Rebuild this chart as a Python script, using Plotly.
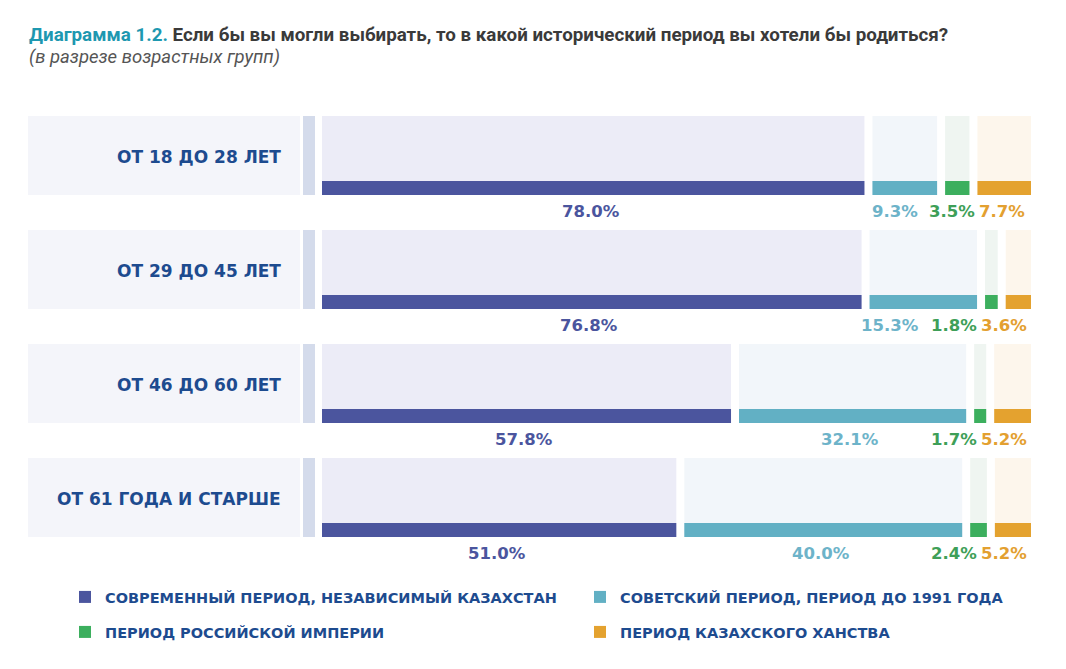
import plotly.graph_objects as go

# ---------------- data ----------------
groups = ["ОТ 18 ДО 28 ЛЕТ", "ОТ 29 ДО 45 ЛЕТ", "ОТ 46 ДО 60 ЛЕТ", "ОТ 61 ГОДА И СТАРШЕ"]
periods = [
    "СОВРЕМЕННЫЙ ПЕРИОД, НЕЗАВИСИМЫЙ КАЗАХСТАН",
    "СОВЕТСКИЙ ПЕРИОД, ПЕРИОД ДО 1991 ГОДА",
    "ПЕРИОД РОССИЙСКОЙ ИМПЕРИИ",
    "ПЕРИОД КАЗАХСКОГО ХАНСТВА",
]
modern = [78.0, 76.8, 57.8, 51.0]
soviet = [9.3, 15.3, 32.1, 40.0]
russian = [3.5, 1.8, 1.7, 2.4]
khanate = [7.7, 3.6, 5.2, 5.2]

series = [modern, soviet, russian, khanate]

# ---------------- styles ----------------
strong = ["#4b559e", "#62b0c4", "#3caf5e", "#e4a22f"]
light = ["#ececf7", "#f2f6fa", "#eff5f1", "#fdf6ec"]
label_col = ["#4b559e", "#6db3c9", "#3e9f58", "#e3a030"]
TEXT_BLUE = "#1d4b8f"
FONT = "DejaVu Sans"

W, H = 1066, 669
OFF = 8  # page body margin


def xp(px):
    return (px - OFF) / W


def yp(py):
    return 1 - (py - OFF) / H


X0_PX, X1_PX = 322, 1031
PX_PER_UNIT = (X1_PX - X0_PX) / 100.0
GAP_U = 8 / PX_PER_UNIT
AVAIL = 100 - 3 * GAP_U

ROW_PITCH = 114.0
TOP_PX = 116.0
ROW_H = 79 / ROW_PITCH
STRIP_TOP = 65 / ROW_PITCH
LABEL_Y = (211 - TOP_PX) / ROW_PITCH
PCT_SIZE = 16.5
# minimal spacing (px) between label c-1 and label c
LABEL_SPACING = [0, 4, 12, 4]


def text_w(s, size):
    w = 0.0
    for ch in s:
        w += {".": 0.38, "%": 1.002, " ": 0.35}.get(ch, 0.696)
    return w * size


# compute segments per row (normalised to the full width, with gaps)
starts = [[0] * 4 for _ in groups]
widths = [[0] * 4 for _ in groups]
for r in range(len(groups)):
    vals = [s[r] for s in series]
    tot = sum(vals)
    x = 0.0
    for c, v in enumerate(vals):
        w = v / tot * AVAIL
        starts[r][c] = x
        widths[r][c] = w
        x += w + GAP_U

fig = go.Figure()

ys_bg = [r + ROW_H / 2 for r in range(len(groups))]
ys_strip = [r + (STRIP_TOP + ROW_H) / 2 for r in range(len(groups))]

for c in range(4):
    fig.add_trace(go.Bar(
        orientation="h",
        y=ys_bg,
        x=[widths[r][c] for r in range(len(groups))],
        base=[starts[r][c] for r in range(len(groups))],
        width=ROW_H,
        marker=dict(color=light[c], line=dict(width=0)),
        showlegend=False,
        hoverinfo="skip",
    ))
legend_names = ["legend", "legend2", "legend3", "legend4"]
for c in range(4):
    fig.add_trace(go.Bar(
        orientation="h",
        y=ys_strip,
        x=[widths[r][c] for r in range(len(groups))],
        base=[starts[r][c] for r in range(len(groups))],
        width=ROW_H - STRIP_TOP,
        marker=dict(color=strong[c], line=dict(width=0)),
        name=periods[c],
        legend=legend_names[c],
        hoverinfo="skip",
    ))

shapes = []
annotations = []
for r, g in enumerate(groups):
    shapes.append(dict(type="rect", xref="paper", yref="y", x0=xp(28), x1=xp(300),
                       y0=r, y1=r + ROW_H, fillcolor="#f4f5fa", line=dict(width=0), layer="below"))
    shapes.append(dict(type="rect", xref="paper", yref="y", x0=xp(303), x1=xp(315),
                       y0=r, y1=r + ROW_H, fillcolor="#d4dbeb", line=dict(width=0), layer="below"))
    annotations.append(dict(xref="paper", yref="y", x=xp(283), y=r + 0.36, xanchor="right",
                            yanchor="middle", showarrow=False, text=g,
                            font=dict(family=FONT, size=17, color=TEXT_BLUE, weight="bold")))

    # percentage labels: centred under segment, pushed left on collision
    texts = [f"{series[c][r]:.1f}%" for c in range(4)]
    wu = [text_w(t, PCT_SIZE) / PX_PER_UNIT for t in texts]
    rights = [starts[r][c] + widths[r][c] / 2 + wu[c] / 2 for c in range(4)]
    limit = 100 - 2 / PX_PER_UNIT
    for c in range(3, -1, -1):
        rights[c] = min(rights[c], limit)
        limit = rights[c] - wu[c] - LABEL_SPACING[c] / PX_PER_UNIT
    for c in range(4):
        annotations.append(dict(xref="x", yref="y", x=rights[c], y=r + LABEL_Y,
                                xanchor="right", yanchor="middle", showarrow=False,
                                text=texts[c],
                                font=dict(family=FONT, size=PCT_SIZE, color=label_col[c],
                                          weight="bold")))

annotations.append(dict(
    xref="paper", yref="paper", x=xp(27), y=yp(35), xanchor="left", yanchor="middle",
    showarrow=False,
    text="<b><span style='color:#1e98b0'>Диаграмма 1.2.</span> Если бы вы могли выбирать, "
         "то в какой исторический период вы хотели бы родиться?</b>",
    font=dict(family="Roboto", size=18.8, color="#3a3a3a")))
annotations.append(dict(
    xref="paper", yref="paper", x=xp(27), y=yp(57), xanchor="left", yanchor="middle",
    showarrow=False, text="<i>(в разрезе возрастных групп)</i>",
    font=dict(family="Roboto", size=18.5, color="#555555")))

legend_common = dict(orientation="h", xanchor="left", yanchor="middle",
                     bgcolor="rgba(0,0,0,0)",
                     font=dict(family=FONT, size=14.5, color=TEXT_BLUE, weight="bold"),
                     itemclick=False, itemdoubleclick=False)
legend_pos = [(65, 597), (580, 597), (65, 632), (580, 632)]
legend_layout = {}
for name, (lx, ly) in zip(legend_names, legend_pos):
    legend_layout[name] = dict(x=xp(lx), y=yp(ly), **legend_common)

fig.update_layout(
    width=W, height=H,
    margin=dict(l=0, r=0, t=0, b=0),
    paper_bgcolor="white", plot_bgcolor="white",
    barmode="overlay",
    xaxis=dict(domain=[xp(X0_PX), xp(X1_PX)], range=[0, 100], visible=False, fixedrange=True),
    yaxis=dict(domain=[0, 1],
               range=[(OFF + H - TOP_PX) / ROW_PITCH, (OFF - TOP_PX) / ROW_PITCH],
               visible=False, fixedrange=True),
    shapes=shapes,
    annotations=annotations,
    showlegend=True,
    **legend_layout,
)

fig.write_html("out.html")
